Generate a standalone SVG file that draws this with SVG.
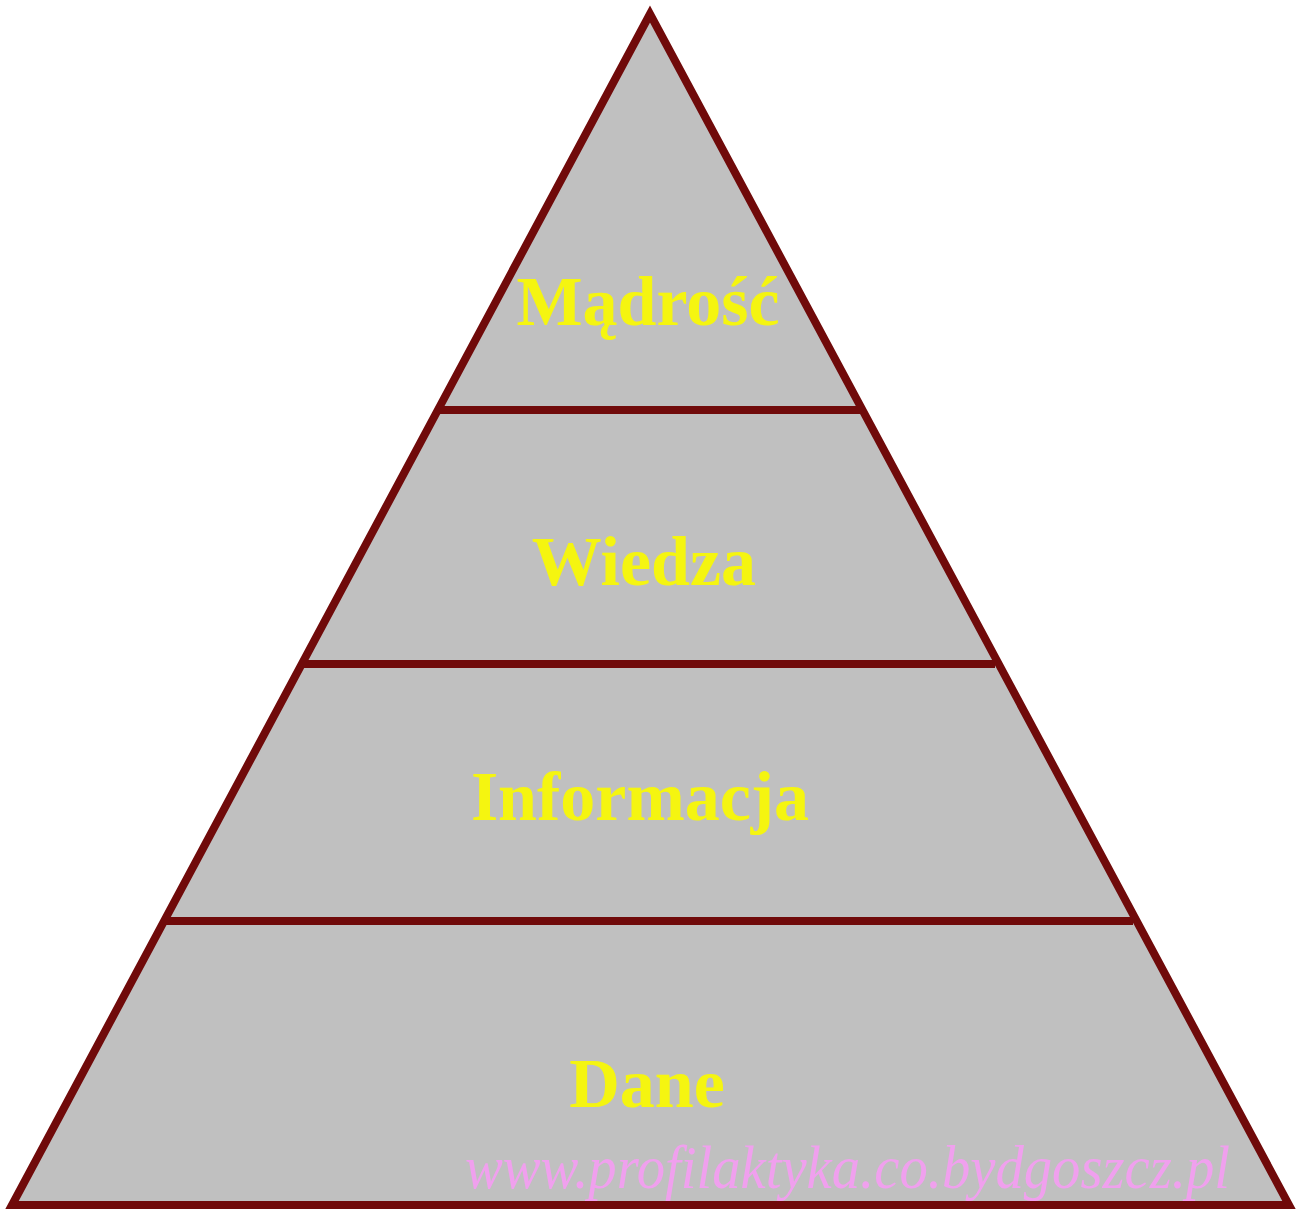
<svg xmlns="http://www.w3.org/2000/svg" width="1296" height="1211" viewBox="0 0 1296 1211">
<style>
.lvl{fill:#f5f510;font-family:"Liberation Serif","Times New Roman",serif;font-weight:bold;font-size:70px;text-anchor:middle}
.edge{stroke:#700a0a;stroke-width:8;fill:none}
.wm{fill:#f0a0ee;font-family:"Liberation Serif","Times New Roman",serif;font-style:italic;font-size:62px}
</style>
<rect width="1296" height="1211" fill="#ffffff"/>
<g id="pyramid">
<polygon points="650,14 12,1205 1289,1205" fill="#c0c0c0" stroke="#700a0a" stroke-width="8" stroke-linejoin="miter"/>
</g>
<g id="connectors">
<line class="edge" x1="439" y1="410" x2="860" y2="410"/>
<line class="edge" x1="304" y1="664" x2="995" y2="664"/>
<line class="edge" x1="166" y1="921" x2="1133" y2="921"/>
</g>
<g id="madrosc"><text class="lvl" x="648" y="325">Mądrość</text></g>
<g id="wiedza"><text class="lvl" x="644" y="585">Wiedza</text></g>
<g id="informacja"><text class="lvl" x="640" y="820">Informacja</text></g>
<g id="dane"><text class="lvl" x="647" y="1107">Dane</text></g>
<g id="watermark"><text class="wm" x="465" y="1188" textLength="765" lengthAdjust="spacingAndGlyphs">www.profilaktyka.co.bydgoszcz.pl</text></g>
</svg>
